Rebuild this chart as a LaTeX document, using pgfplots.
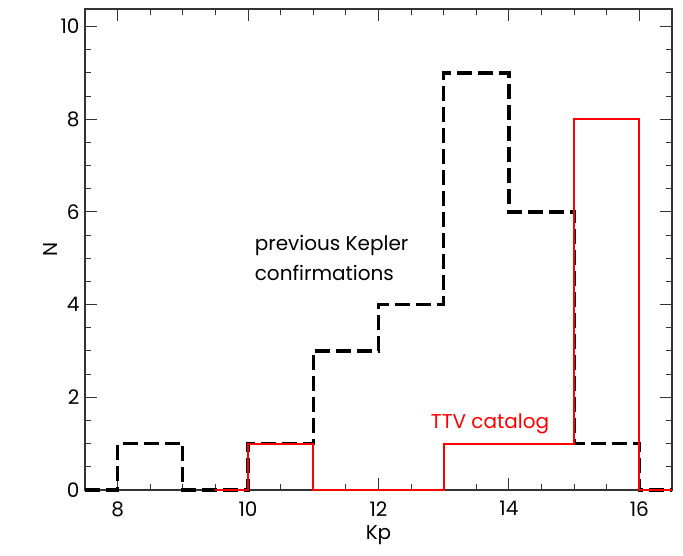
\documentclass[border=0pt]{standalone}
\usepackage{fontspec}
\setmainfont{Poppins}
\usepackage{pgfplots}
\pgfplotsset{compat=1.18}
\definecolor{ttv}{RGB}{255,0,0}
\begin{document}
\begin{tikzpicture}
\begin{axis}[name=ax, scale only axis, width=587pt, height=481pt,
  xmin=7.5, xmax=16.5, ymin=0, ymax=10.38,
  xtick={8,10,12,14,16}, ytick={0,2,4,6,8,10},
  minor x tick num=3, minor y tick num=3,
  tick align=inside, major tick length=12pt, minor tick length=6pt,
  axis line style={line width=1.1pt, black!80},
  every tick/.style={line width=1pt, black!80},
  /pgf/number format/assume math mode=true,
  tick label style={font=\fontsize{20}{22}\selectfont},
  xticklabel style={yshift=-8pt},
  yticklabel style={xshift=-2pt},
  label style={font=\fontsize{20}{22}\selectfont},
  xlabel={Kp}, ylabel={N},
  xlabel style={yshift=-2pt},
  ylabel style={yshift=-4pt},
  clip=false]
\addplot[draw=black, line width=3.3pt, dash pattern=on 15pt off 6pt, mark=none]
  coordinates {(7.5,0) (8,0) (8,1) (9,1) (9,0) (10,0) (10,1) (11,1) (11,3) (12,3) (12,4) (13,4) (13,9) (14,9) (14,6) (15,6) (15,1) (16,1) (16,0) (16.5,0)};
\addplot[draw=ttv, solid, line width=2.1pt, mark=none]
  coordinates {(9.5,0) (10,0) (10,1) (11,1) (11,0) (13,0) (13,1) (15,1) (15,8) (16,8) (16,0) (16.5,0)};
\node[anchor=west, align=left, font=\fontsize{20}{30}\selectfont] at (axis cs:10.05,5.0) {previous Kepler\\confirmations};
\node[anchor=west, text=ttv, font=\fontsize{20}{22}\selectfont] at (axis cs:12.75,1.43) {TTV catalog};
\end{axis}
\pgfresetboundingbox
\path ([xshift=-85pt,yshift=-65pt]ax.south west) rectangle ([xshift=11pt,yshift=9pt]ax.north east);
\end{tikzpicture}
\end{document}
